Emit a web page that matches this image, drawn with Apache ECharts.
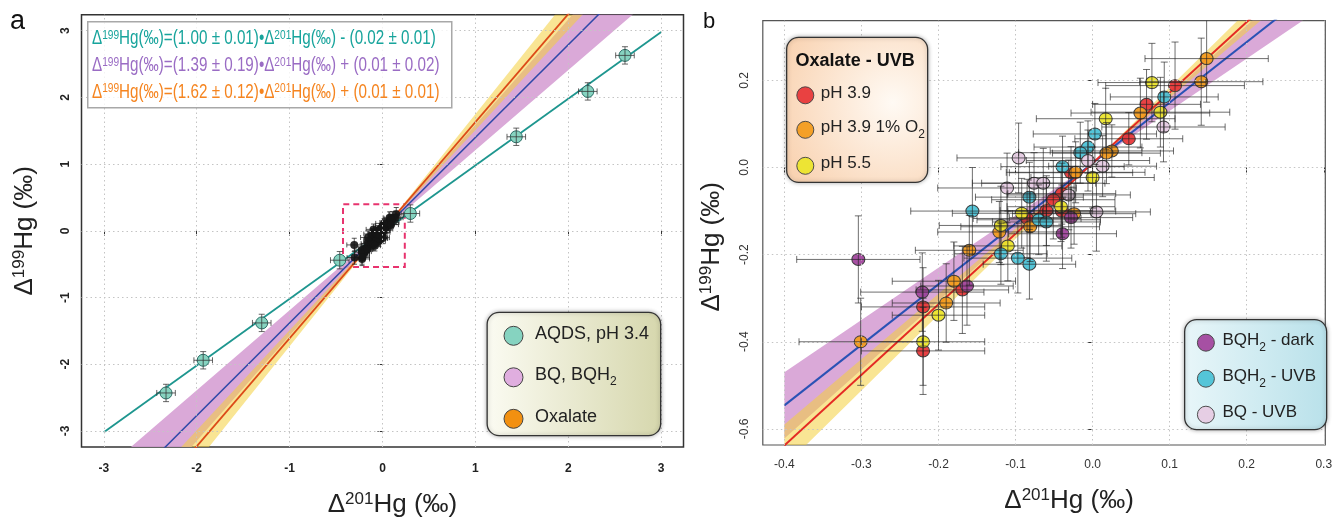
<!DOCTYPE html>
<html>
<head>
<meta charset="utf-8">
<script src="https://cdn.jsdelivr.net/npm/echarts@6/dist/echarts.min.js"></script>
<style>
  html, body { margin: 0; padding: 0; background: #fff; }
  #chart { width: 1339px; height: 523px; }
</style>
</head>
<body>
<div id="chart"></div>
<script>
  // regressions: AQDS, BQ/BQH2, Oxalate
  const fitNames = ['AQDS, pH 3.4', 'BQ, BQH2', 'Oxalate'];
  const fitSlope = [1.00, 1.39, 1.62];
  const fitSlopeErr = [0.01, 0.19, 0.12];
  const fitIntercept = [-0.02, 0.01, 0.01];
  const fitInterceptErr = [0.01, 0.02, 0.01];
  const aqdsFitRange = [-3, 3];
  const bFitRange = [-0.4, 0.3];

  // panel a, AQDS points (d201Hg, d199Hg)
  const aqdsX = [-2.33, -1.93, -1.30, -0.46, 0.30, 1.44, 2.21, 2.61];
  const aqdsY = [-2.43, -1.94, -1.38, -0.44, 0.26, 1.41, 2.09, 2.63];
  const aqdsXerr = [0.10, 0.10, 0.10, 0.10, 0.10, 0.10, 0.10, 0.10];
  const aqdsYerr = [0.13, 0.13, 0.13, 0.13, 0.13, 0.13, 0.13, 0.13];

  // panel b, rows are [d201Hg, d199Hg, err201, err199]
  const oxPh39 = [
    [0.107, 0.188, 0.09, 0.10], [0.070, 0.145, 0.07, 0.08], [0.047, 0.066, 0.07, 0.06],
    [-0.028, -0.012, 0.08, 0.06], [-0.040, -0.060, 0.07, 0.07], [-0.051, -0.074, 0.08, 0.09],
    [-0.060, -0.099, 0.06, 0.08], [-0.040, -0.100, 0.07, 0.06], [-0.085, -0.117, 0.07, 0.09],
    [-0.169, -0.281, 0.06, 0.10], [-0.220, -0.320, 0.08, 0.09], [-0.220, -0.421, 0.08, 0.10]
  ];
  const oxPh39O2 = [
    [0.148, 0.250, 0.08, 0.10], [0.141, 0.197, 0.08, 0.10], [0.062, 0.125, 0.09, 0.08],
    [0.025, 0.038, 0.08, 0.06], [0.018, 0.033, 0.07, 0.07], [-0.022, -0.011, 0.09, 0.07],
    [-0.024, -0.106, 0.08, 0.07], [-0.081, -0.136, 0.09, 0.08], [-0.121, -0.148, 0.08, 0.07],
    [-0.160, -0.190, 0.07, 0.08], [-0.180, -0.261, 0.08, 0.09], [-0.190, -0.311, 0.07, 0.09],
    [-0.301, -0.400, 0.08, 0.10]
  ];
  const oxPh55 = [
    [0.077, 0.195, 0.07, 0.09], [0.088, 0.127, 0.09, 0.08], [0.017, 0.112, 0.09, 0.07],
    [0.000, -0.023, 0.08, 0.07], [-0.041, -0.090, 0.07, 0.08], [-0.092, -0.105, 0.09, 0.08],
    [-0.119, -0.133, 0.08, 0.09], [-0.110, -0.180, 0.07, 0.08], [-0.200, -0.339, 0.06, 0.08],
    [-0.220, -0.400, 0.08, 0.10]
  ];
  const bqh2Dark = [
    [-0.304, -0.211, 0.08, 0.10], [-0.221, -0.286, 0.08, 0.09], [-0.163, -0.272, 0.06, 0.09],
    [-0.039, -0.152, 0.07, 0.08], [-0.028, -0.115, 0.08, 0.07]
  ];
  const bqh2Uvb = [
    [0.093, 0.162, 0.07, 0.08], [0.003, 0.077, 0.08, 0.07], [-0.006, 0.047, 0.07, 0.06],
    [-0.016, 0.034, 0.08, 0.07], [-0.039, 0.002, 0.08, 0.07], [-0.082, -0.068, 0.07, 0.08],
    [-0.156, -0.100, 0.08, 0.10], [-0.070, -0.120, 0.08, 0.08], [-0.060, -0.125, 0.07, 0.09],
    [-0.119, -0.198, 0.06, 0.07], [-0.097, -0.208, 0.07, 0.08], [-0.082, -0.222, 0.06, 0.08]
  ];
  const bqUvb = [
    [-0.096, 0.022, 0.08, 0.08], [-0.111, -0.047, 0.09, 0.08], [-0.076, -0.036, 0.08, 0.07],
    [-0.064, -0.036, 0.08, 0.08], [0.013, 0.003, 0.07, 0.07], [-0.006, 0.016, 0.08, 0.07],
    [0.005, -0.102, 0.07, 0.09], [0.092, 0.093, 0.08, 0.08], [-0.031, -0.063, 0.08, 0.08]
  ];
  const groupNames = ['pH 3.9', 'pH 3.9 1% O2', 'pH 5.5', 'BQH2 - dark', 'BQH2 - UVB', 'BQ - UVB'];
  const groupRows = [oxPh39, oxPh39O2, oxPh55, bqh2Dark, bqh2Uvb, bqUvb];
  const groupColors = ['#e8383a', '#f39c1f', '#ece52c', '#a2479e', '#4cc2d6', '#e6cbe3'];

  // axes
  const aRange = [-3.24, 3.24];
  const aTicks = [-3, -2, -1, 0, 1, 2, 3];
  const bRangeX = [-0.428, 0.302];
  const bRangeY = [-0.637, 0.337];
  const bTicksX = [-0.4, -0.3, -0.2, -0.1, 0, 0.1, 0.2, 0.3];
  const bTicksY = [-0.6, -0.4, -0.2, 0, 0.2];
  const zoomBoxX = [-0.425, 0.24];
  const zoomBoxY = [-0.54, 0.40];

  const FONT = 'Liberation Sans, Arial, sans-serif';
  const allRows = [].concat(...groupRows);

  function richName(name) {
    return '{t|' + name.replace(/([A-Z])2/g, '$1}{sub|2}{t|') + '}';
  }
  function legRich(size) {
    return {
      t: { fontSize: size, fontFamily: FONT, color: '#222', verticalAlign: 'top', lineHeight: size + 4 },
      sub: { fontSize: Math.round(size * 0.68), fontFamily: FONT, color: '#222', verticalAlign: 'top',
             padding: [Math.round(size * 0.5), 0, 0, 0], lineHeight: size + 4 }
    };
  }
  function eqText(i) {
    const c = fitIntercept[i];
    return '{t|Δ}{s|199}{t|Hg(‰)=(' + fitSlope[i].toFixed(2) + ' ± ' + fitSlopeErr[i].toFixed(2) +
      ')•Δ}{s|201}{t|Hg(‰)' + (c < 0 ? ' - ' : ' + ') + '(' + Math.abs(c).toFixed(2) + ' ± ' +
      fitInterceptErr[i].toFixed(2) + ')}';
  }
  function axisTitle(iso) {
    return '{t|Δ}{s|' + iso + '}{t|Hg (‰)}';
  }
  const titleRich = {
    t: { fontSize: 26, fontFamily: FONT, color: '#222', verticalAlign: 'bottom' },
    s: { fontSize: 17, fontFamily: FONT, color: '#222', verticalAlign: 'bottom', padding: [0, 0, 10, 0] }
  };

  function errorBars(cap, color, opacity) {
    return function (params, api) {
      const x = api.value(0), y = api.value(1), ex = api.value(2), ey = api.value(3);
      const l = api.coord([x - ex, y]), r = api.coord([x + ex, y]);
      const b = api.coord([x, y - ey]), t = api.coord([x, y + ey]);
      const style = { stroke: color, lineWidth: 1, opacity: opacity };
      const seg = (x1, y1, x2, y2) => ({ type: 'line', shape: { x1, y1, x2, y2 }, style });
      return {
        type: 'group',
        children: [
          seg(l[0], l[1], r[0], r[1]), seg(b[0], b[1], t[0], t[1]),
          seg(l[0], l[1] - cap, l[0], l[1] + cap), seg(r[0], r[1] - cap, r[0], r[1] + cap),
          seg(b[0] - cap, b[1], b[0] + cap, b[1]), seg(t[0] - cap, t[1], t[0] + cap, t[1])
        ]
      };
    };
  }

  // confidence band of a fit: slope +/- error, pivoting on the intercept
  function bandSeries(i, gi, range, color) {
    return {
      type: 'custom', name: fitNames[i], xAxisIndex: gi, yAxisIndex: gi, clip: true, z: 1, silent: true,
      data: [[range[0], range[1], fitSlope[i], fitSlopeErr[i], fitIntercept[i]]],
      encode: { x: [0, 1], y: 4 },
      renderItem: function (params, api) {
        const x0 = api.value(0), x1 = api.value(1), s = api.value(2), e = api.value(3), c = api.value(4);
        const pts = [
          api.coord([x0, c + (s - e) * x0]), api.coord([x1, c + (s - e) * x1]),
          api.coord([x1, c + (s + e) * x1]), api.coord([x0, c + (s + e) * x0])
        ];
        return { type: 'polygon', shape: { points: pts }, style: { fill: color } };
      }
    };
  }
  function fitLine(i, gi, range, color, width) {
    return {
      type: 'line', xAxisIndex: gi, yAxisIndex: gi, symbol: 'none', z: 2, silent: true,
      lineStyle: { color: color, width: width },
      data: range.map(x => [x, fitIntercept[i] + fitSlope[i] * x])
    };
  }
  // dotted reference grid at the tick values
  function gridLines(gi, xs, ys) {
    return {
      type: 'line', xAxisIndex: gi, yAxisIndex: gi, data: [], z: 0, silent: true,
      markLine: {
        silent: true, symbol: 'none', label: { show: false }, animation: false,
        lineStyle: { type: [1.5, 3], color: '#c4c4c4', width: 1 },
        data: xs.map(v => ({ xAxis: v })).concat(ys.map(v => ({ yAxis: v })))
      }
    };
  }

  function valueAxis(gi, range, ticks, opts) {
    return Object.assign({
      gridIndex: gi, type: 'value', min: range[0], max: range[1],
      axisLine: { show: false },
      axisTick: { show: true, length: 5, customValues: ticks, lineStyle: { color: '#333' } },
      splitLine: { show: false },
      nameLocation: 'middle'
    }, opts);
  }

  const series = [];
  // panel a
  series.push(gridLines(0, aTicks, aTicks));
  series.push(bandSeries(1, 0, aRange, 'rgba(214,160,212,0.9)'));
  series.push(bandSeries(2, 0, aRange, 'rgba(244,208,60,0.55)'));
  series.push(fitLine(1, 0, aRange, '#2f49a8', 1.5));
  series.push(fitLine(2, 0, aRange, '#dc4a18', 1.8));
  const tealLine = fitLine(0, 0, aqdsFitRange, '#1e968f', 1.8);
  tealLine.markArea = {
    silent: true,
    itemStyle: { color: 'rgba(0,0,0,0)', borderColor: '#e8336e', borderWidth: 2, borderType: [6, 4] },
    data: [[{ coord: [zoomBoxX[0], zoomBoxY[0]] }, { coord: [zoomBoxX[1], zoomBoxY[1]] }]]
  };
  series.push(tealLine);
  series.push({
    type: 'custom', xAxisIndex: 0, yAxisIndex: 0, z: 3, silent: true, clip: true,
    data: allRows, encode: { x: 0, y: 1 }, renderItem: errorBars(2.5, '#222', 0.75)
  });
  series.push({
    type: 'scatter', xAxisIndex: 0, yAxisIndex: 0, z: 4, silent: true, symbolSize: 8,
    itemStyle: { color: '#151515', opacity: 0.9 },
    data: allRows.map(r => [r[0], r[1]])
  });
  series.push({
    type: 'scatter', name: fitNames[0], xAxisIndex: 0, yAxisIndex: 0, z: 5, symbolSize: 12,
    itemStyle: { color: '#86d3c0', borderColor: '#2c6f68', borderWidth: 1, opacity: 1 },
    data: aqdsX.map((x, k) => [x, aqdsY[k]])
  });
  series.push({
    type: 'custom', xAxisIndex: 0, yAxisIndex: 0, z: 6, silent: true,
    data: aqdsX.map((x, k) => [x, aqdsY[k], aqdsXerr[k], aqdsYerr[k]]),
    encode: { x: 0, y: 1 }, renderItem: errorBars(3, '#333', 0.75)
  });

  // panel b
  series.push(gridLines(1, bTicksX, bTicksY));
  series.push(bandSeries(1, 1, bFitRange, 'rgba(214,160,212,0.9)'));
  series.push(bandSeries(2, 1, bFitRange, 'rgba(244,208,60,0.55)'));
  series.push(fitLine(1, 1, bFitRange, '#2a52b5', 2));
  series.push(fitLine(2, 1, bFitRange, '#e42a24', 2));
  groupNames.forEach((name, g) => {
    series.push({
      type: 'scatter', name: name, xAxisIndex: 1, yAxisIndex: 1, z: 4, symbolSize: [13, 12],
      itemStyle: { color: groupColors[g], borderColor: '#3a3a3a', borderWidth: 1, opacity: 0.95 },
      data: groupRows[g].map(r => [r[0], r[1]])
    });
  });
  series.push({
    type: 'custom', xAxisIndex: 1, yAxisIndex: 1, z: 5, silent: true, clip: true,
    data: allRows, encode: { x: 0, y: 1 }, renderItem: errorBars(3.5, '#222', 0.65)
  });

  const legendA = ['#86d3c0', '#e0aedf', '#f29010'];
  const option = {
    animation: false,
    backgroundColor: '#fff',
    textStyle: { fontFamily: FONT },
    grid: [
      { left: 81.5, top: 14.7, width: 602, height: 438.6, show: true, borderColor: '#333', borderWidth: 1.5 },
      { left: 762.8, top: 20.7, width: 562.5, height: 424.3, show: true, borderColor: '#555', borderWidth: 1.2 }
    ],
    xAxis: [
      valueAxis(0, aRange, aTicks, {
        axisLabel: { customValues: aTicks, margin: 16, fontSize: 12, fontWeight: 'bold', color: '#222' },
        name: axisTitle('201'), nameGap: 44,
        nameTextStyle: { rich: titleRich, padding: [0, 0, 0, 20] }
      }),
      valueAxis(1, bRangeX, bTicksX, {
        axisLabel: { customValues: bTicksX, margin: 14, fontSize: 12, color: '#333', formatter: v => v.toFixed(1) },
        name: axisTitle('201'), nameGap: 42,
        nameTextStyle: { rich: titleRich, padding: [0, 0, 0, 50] }
      })
    ],
    yAxis: [
      valueAxis(0, aRange, aTicks, {
        axisLabel: { customValues: aTicks, margin: 10, fontSize: 12, fontWeight: 'bold', color: '#222', rotate: 90 },
        name: axisTitle('199'), nameGap: 44,
        nameTextStyle: { rich: titleRich }
      }),
      valueAxis(1, bRangeY, bTicksY, {
        axisLabel: { customValues: bTicksY, margin: 12, fontSize: 12, color: '#333', rotate: 90, formatter: v => v.toFixed(1) },
        name: axisTitle('199'), nameGap: 38,
        nameTextStyle: { rich: titleRich, padding: [0, 28, 0, 0] }
      })
    ],
    legend: [
      {
        orient: 'vertical', left: 503.5, top: 324.8, padding: 0, itemGap: 20.5, itemWidth: 19, itemHeight: 19, z: 20,
        selectedMode: false,
        data: fitNames.map((n, i) => ({ name: n, icon: 'circle', itemStyle: { color: legendA[i], borderColor: '#444', borderWidth: 1 } })),
        formatter: richName,
        textStyle: { fontSize: 18, color: '#222', padding: [0, 0, 0, 7], rich: legRich(18) }
      },
      {
        orient: 'vertical', left: 796.3, top: 84.8, padding: 0, itemGap: 15, itemWidth: 17, itemHeight: 17, z: 20,
        selectedMode: false,
        data: groupNames.slice(0, 3).map((n, i) => ({ name: n, icon: 'circle', itemStyle: { color: groupColors[i], borderColor: '#444', borderWidth: 1 } })),
        formatter: richName,
        textStyle: { fontSize: 17, color: '#222', padding: [0, 0, 0, 2], rich: legRich(17) }
      },
      {
        orient: 'vertical', left: 1196.9, top: 332.2, padding: 0, itemGap: 15, itemWidth: 17, itemHeight: 17, z: 20,
        selectedMode: false,
        data: groupNames.slice(3).map((n, i) => ({ name: n, icon: 'circle', itemStyle: { color: groupColors[i + 3], borderColor: '#444', borderWidth: 1 } })),
        formatter: richName,
        textStyle: { fontSize: 17, color: '#222', padding: [0, 0, 0, 3], rich: legRich(17) }
      }
    ],
    graphic: [
      { type: 'text', left: 10, top: 8, style: { text: 'a', fontSize: 27, fontFamily: FONT, fill: '#111' } },
      { type: 'text', left: 703, top: 11, style: { text: 'b', fontSize: 22, fontFamily: FONT, fill: '#111' } },
      // regression box
      { type: 'rect', left: 87, top: 21, z: 10, shape: { width: 364, height: 86 },
        style: { fill: 'rgba(255,255,255,0.8)', stroke: '#a8a8a8', lineWidth: 1.5 } },
      ...[0, 1, 2].map(i => ({
        type: 'text', x: 92, y: 39 + i * 26.6, z: 11, scaleX: 0.78,
        style: {
          text: eqText(i), fill: ['#17a49c', '#9a6cc4', '#f5841f'][i], verticalAlign: 'middle',
          rich: {
            t: { fontSize: 19.5, fontFamily: FONT, verticalAlign: 'bottom' },
            s: { fontSize: 13, fontFamily: FONT, verticalAlign: 'bottom', padding: [0, 0, 7, 0] }
          }
        }
      })),
      // legend boxes
      { type: 'rect', left: 486.5, top: 311.7, z: 10, shape: { width: 173.5, height: 123.3, r: 12 },
        style: { stroke: '#333', lineWidth: 1.3, shadowBlur: 4, shadowColor: 'rgba(0,0,0,0.3)',
          fill: new echarts.graphic.LinearGradient(0, 0, 1, 0, [{ offset: 0, color: '#fbfbf2' }, { offset: 1, color: '#d6d7ad' }]) } },
      { type: 'rect', left: 786, top: 36.7, z: 10, shape: { width: 141, height: 145, r: 12 },
        style: { stroke: '#333', lineWidth: 1.3, shadowBlur: 4, shadowColor: 'rgba(0,0,0,0.3)',
          fill: new echarts.graphic.RadialGradient(0.75, 0.45, 0.85, [{ offset: 0, color: '#fffaf4' }, { offset: 1, color: '#f9d3b2' }]) } },
      { type: 'text', x: 795.6, y: 61, z: 11,
        style: { text: 'Oxalate - UVB', fontSize: 18, fontWeight: 'bold', fontFamily: FONT, fill: '#111', verticalAlign: 'middle' } },
      { type: 'rect', left: 1184, top: 319, z: 10, shape: { width: 142, height: 110, r: 12 },
        style: { stroke: '#333', lineWidth: 1.3, shadowBlur: 4, shadowColor: 'rgba(0,0,0,0.3)',
          fill: new echarts.graphic.LinearGradient(0, 0, 1, 0, [{ offset: 0, color: '#e8f6f9' }, { offset: 1, color: '#b9e1ea' }]) } }
    ],
    series: series
  };

  const myChart = echarts.init(document.getElementById('chart'), null, { renderer: 'canvas' });
  myChart.setOption(option);
</script>
</body>
</html>
